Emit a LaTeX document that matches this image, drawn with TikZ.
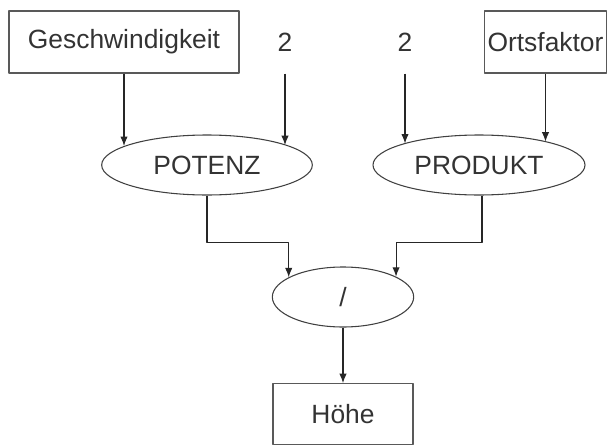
\documentclass[tikz,border=0pt]{standalone}
\usepackage{fontspec}
\setmainfont{Liberation Sans}
\usetikzlibrary{shapes.geometric,arrows.meta}
\begin{document}
\begin{tikzpicture}[x=0.75pt,y=-0.75pt,>={Latex[length=7pt,width=5.5pt]}, font=\fontsize{19.8}{23}\selectfont, line join=round,
		box/.style={draw=black!65,line width=0.9pt,minimum height=46.5pt,inner sep=0pt,text=black!80},
		oval/.style={ellipse,draw=black!75,line width=0.8pt,minimum height=45pt,inner sep=0pt,text=black!80},
		arr/.style={->,draw=black!85,line width=0.8pt}]
					\useasboundingbox (0,0) rectangle (607,446);
					\node[box,minimum width=172.5pt] (geschw) at (124,42) {Geschwindigkeit};
					\node[box,draw=none,minimum width=20pt] (zweiA) at (285,42) {2};
					\node[box,draw=none,minimum width=20pt] (zweiB) at (405,42) {2};
					\node[box,minimum width=91.5pt] (orts) at (545.5,42) {Ortsfaktor};
					\node[oval,minimum width=158pt] (potenz) at (207,165) {POTENZ};
					\node[oval,minimum width=159pt] (produkt) at (479,165) {PRODUKT};
					\node[oval,minimum width=106pt] (slash) at (343,297) {/};
					\node[box,minimum width=105pt,minimum height=45.5pt] (hoehe) at (343,414) {Höhe};
					\draw[arr] (geschw.south) -- (geschw.south |- potenz.167);
					\draw[arr] (zweiA.south) -- (zweiA.south |- potenz.14);
					\draw[arr] (zweiB.south) -- (zweiB.south |- produkt.164);
					\draw[arr] (orts.south) -- (orts.south |- produkt.19);
					\draw[arr] ([xshift=2.25pt]produkt.south) -- ++(0,47) -| (slash.21);
					\draw[arr] (potenz.south) -- ++(0,47) -| (slash.160);
					\draw[arr] (slash.south) -- (hoehe.north);
				\end{tikzpicture}
\end{document}
